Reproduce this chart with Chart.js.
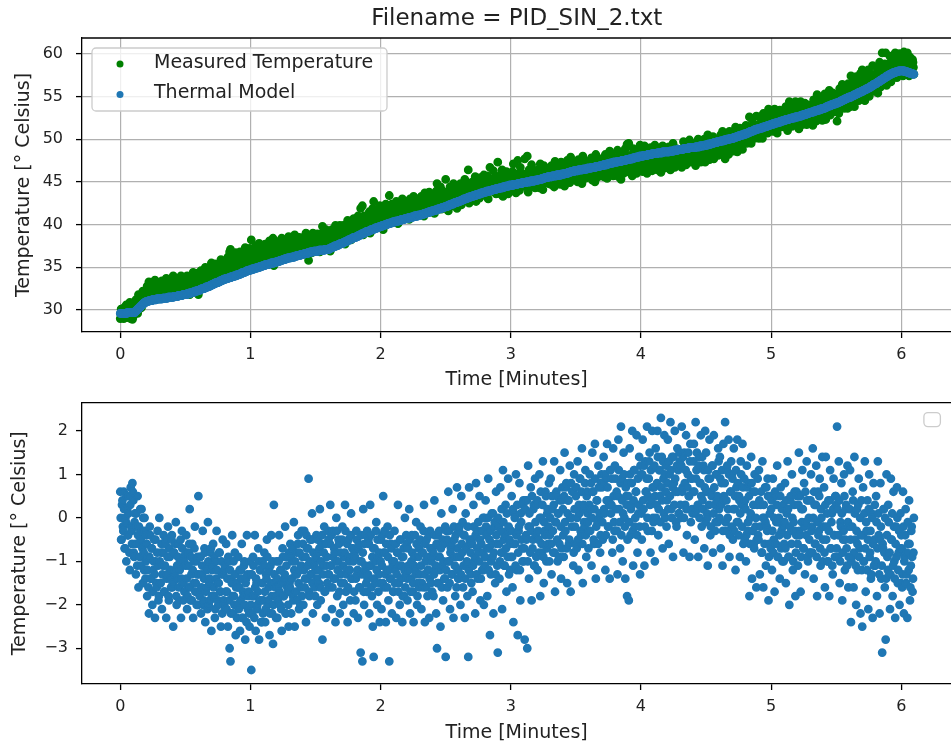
<!DOCTYPE html>
<html>
<head>
<meta charset="utf-8">
<title>PID_SIN_2</title>
<script src="https://cdn.jsdelivr.net/npm/chart.js@4.4.1/dist/chart.umd.min.js"></script>
<style>
  html, body { margin: 0; padding: 0; background: #fff; overflow: hidden; }
  #figure { position: relative; width: 951px; height: 749px; overflow: hidden; background: #fff; }
  #figure canvas { position: absolute; left: 0; }
  #tempChart { top: 0; }
  #errorChart { top: 385px; }
</style>
</head>
<body>
<div id="figure">
  <canvas id="tempChart" width="957" height="395"></canvas>
  <canvas id="errorChart" width="957" height="364"></canvas>
</div>
<script>
// logger samples at 5 Hz -> 300 samples per minute, one row = 0.1 min
const SAMPLES_PER_MIN = 300;

const timeTicks = [0, 1, 2, 3, 4, 5, 6];
const tempTicks = [30, 35, 40, 45, 50, 55, 60];
const errorTicks = [-3, -2, -1, 0, 1, 2];

// thermal model output, deg C
const thermalModel = [
  29.6, 29.6, 29.6, 29.6, 29.6, 29.6, 29.6, 29.6, 29.6, 29.6, 29.6, 29.6, 29.6, 29.6, 29.6, 29.6, 29.7, 29.7, 29.7, 29.7, 29.7, 29.7, 29.7, 29.7, 29.7, 29.7, 29.7, 29.7, 29.7, 29.7,
  29.7, 29.7, 29.7, 29.7, 29.8, 29.8, 29.9, 29.9, 30.0, 30.0, 30.1, 30.1, 30.2, 30.2, 30.3, 30.3, 30.4, 30.4, 30.5, 30.5, 30.6, 30.6, 30.7, 30.7, 30.8, 30.8, 30.9, 30.9, 30.9, 30.9,
  31.0, 31.0, 31.0, 31.0, 31.0, 31.0, 31.1, 31.1, 31.1, 31.1, 31.1, 31.1, 31.1, 31.1, 31.2, 31.2, 31.2, 31.2, 31.2, 31.2, 31.2, 31.2, 31.2, 31.2, 31.3, 31.3, 31.3, 31.3, 31.3, 31.3,
  31.3, 31.3, 31.3, 31.3, 31.3, 31.3, 31.3, 31.3, 31.4, 31.4, 31.4, 31.4, 31.4, 31.4, 31.4, 31.4, 31.4, 31.4, 31.4, 31.4, 31.5, 31.5, 31.5, 31.5, 31.5, 31.5, 31.5, 31.5, 31.5, 31.5,
  31.5, 31.5, 31.5, 31.5, 31.6, 31.6, 31.6, 31.6, 31.6, 31.6, 31.6, 31.6, 31.6, 31.6, 31.7, 31.7, 31.7, 31.7, 31.7, 31.7, 31.7, 31.7, 31.7, 31.7, 31.8, 31.8, 31.8, 31.8, 31.8, 31.8,
  31.8, 31.8, 31.8, 31.8, 31.9, 31.9, 31.9, 31.9, 31.9, 31.9, 32.0, 32.0, 32.0, 32.0, 32.0, 32.0, 32.1, 32.1, 32.1, 32.1, 32.1, 32.1, 32.2, 32.2, 32.2, 32.2, 32.2, 32.2, 32.3, 32.3,
  32.3, 32.3, 32.3, 32.3, 32.4, 32.4, 32.4, 32.4, 32.5, 32.5, 32.5, 32.5, 32.5, 32.5, 32.6, 32.6, 32.6, 32.6, 32.7, 32.7, 32.7, 32.7, 32.7, 32.7, 32.8, 32.8, 32.8, 32.8, 32.9, 32.9,
  32.9, 32.9, 33.0, 33.0, 33.0, 33.0, 33.1, 33.1, 33.1, 33.1, 33.2, 33.2, 33.2, 33.2, 33.2, 33.2, 33.3, 33.3, 33.3, 33.3, 33.4, 33.4, 33.4, 33.4, 33.5, 33.5, 33.5, 33.5, 33.6, 33.6,
  33.6, 33.6, 33.6, 33.6, 33.7, 33.7, 33.7, 33.7, 33.7, 33.7, 33.8, 33.8, 33.8, 33.8, 33.8, 33.8, 33.9, 33.9, 33.9, 33.9, 33.9, 33.9, 34.0, 34.0, 34.0, 34.0, 34.0, 34.0, 34.1, 34.1,
  34.1, 34.1, 34.1, 34.1, 34.2, 34.2, 34.2, 34.2, 34.3, 34.3, 34.3, 34.3, 34.4, 34.4, 34.4, 34.4, 34.4, 34.4, 34.5, 34.5, 34.5, 34.5, 34.6, 34.6, 34.6, 34.6, 34.6, 34.6, 34.7, 34.7,
  34.7, 34.7, 34.7, 34.7, 34.8, 34.8, 34.8, 34.8, 34.8, 34.8, 34.9, 34.9, 34.9, 34.9, 34.9, 34.9, 35.0, 35.0, 35.0, 35.0, 35.0, 35.0, 35.1, 35.1, 35.1, 35.1, 35.1, 35.1, 35.2, 35.2,
  35.2, 35.2, 35.2, 35.2, 35.3, 35.3, 35.3, 35.3, 35.3, 35.3, 35.3, 35.3, 35.4, 35.4, 35.4, 35.4, 35.4, 35.4, 35.5, 35.5, 35.5, 35.5, 35.5, 35.5, 35.5, 35.5, 35.6, 35.6, 35.6, 35.6,
  35.6, 35.6, 35.7, 35.7, 35.7, 35.7, 35.7, 35.7, 35.8, 35.8, 35.8, 35.8, 35.8, 35.8, 35.9, 35.9, 35.9, 35.9, 35.9, 35.9, 36.0, 36.0, 36.0, 36.0, 36.0, 36.0, 36.1, 36.1, 36.1, 36.1,
  36.1, 36.1, 36.1, 36.1, 36.2, 36.2, 36.2, 36.2, 36.2, 36.2, 36.2, 36.2, 36.3, 36.3, 36.3, 36.3, 36.3, 36.3, 36.4, 36.4, 36.4, 36.4, 36.4, 36.4, 36.4, 36.4, 36.5, 36.5, 36.5, 36.5,
  36.5, 36.5, 36.5, 36.5, 36.6, 36.6, 36.6, 36.6, 36.6, 36.6, 36.6, 36.6, 36.7, 36.7, 36.7, 36.7, 36.7, 36.7, 36.8, 36.8, 36.8, 36.8, 36.8, 36.8, 36.8, 36.8, 36.9, 36.9, 36.9, 36.9,
  36.9, 36.9, 36.9, 36.9, 36.9, 36.9, 36.9, 36.9, 37.0, 37.0, 37.0, 37.0, 37.0, 37.0, 37.0, 37.0, 37.0, 37.0, 37.0, 37.0, 37.0, 37.0, 37.1, 37.1, 37.1, 37.1, 37.1, 37.1, 37.1, 37.1,
  37.1, 37.1, 37.2, 37.2, 37.2, 37.2, 37.3, 37.3, 37.3, 37.3, 37.4, 37.4, 37.4, 37.4, 37.5, 37.5, 37.5, 37.5, 37.5, 37.5, 37.6, 37.6, 37.6, 37.6, 37.7, 37.7, 37.7, 37.7, 37.8, 37.8,
  37.8, 37.8, 37.8, 37.8, 37.9, 37.9, 37.9, 37.9, 38.0, 38.0, 38.0, 38.0, 38.1, 38.1, 38.1, 38.1, 38.2, 38.2, 38.2, 38.2, 38.3, 38.3, 38.3, 38.3, 38.4, 38.4, 38.4, 38.4, 38.5, 38.5,
  38.5, 38.5, 38.5, 38.5, 38.6, 38.6, 38.6, 38.6, 38.7, 38.7, 38.7, 38.7, 38.8, 38.8, 38.8, 38.8, 38.9, 38.9, 38.9, 38.9, 39.0, 39.0, 39.0, 39.0, 39.1, 39.1, 39.1, 39.1, 39.2, 39.2,
  39.2, 39.2, 39.2, 39.2, 39.3, 39.3, 39.3, 39.3, 39.4, 39.4, 39.4, 39.4, 39.4, 39.4, 39.5, 39.5, 39.5, 39.5, 39.6, 39.6, 39.6, 39.6, 39.6, 39.6, 39.7, 39.7, 39.7, 39.7, 39.8, 39.8,
  39.8, 39.8, 39.8, 39.8, 39.9, 39.9, 39.9, 39.9, 39.9, 39.9, 40.0, 40.0, 40.0, 40.0, 40.0, 40.0, 40.1, 40.1, 40.1, 40.1, 40.1, 40.1, 40.2, 40.2, 40.2, 40.2, 40.2, 40.2, 40.3, 40.3,
  40.3, 40.3, 40.3, 40.3, 40.4, 40.4, 40.4, 40.4, 40.4, 40.4, 40.4, 40.4, 40.5, 40.5, 40.5, 40.5, 40.5, 40.5, 40.6, 40.6, 40.6, 40.6, 40.6, 40.6, 40.6, 40.6, 40.7, 40.7, 40.7, 40.7,
  40.7, 40.7, 40.7, 40.7, 40.8, 40.8, 40.8, 40.8, 40.8, 40.8, 40.8, 40.8, 40.9, 40.9, 40.9, 40.9, 40.9, 40.9, 41.0, 41.0, 41.0, 41.0, 41.0, 41.0, 41.0, 41.0, 41.1, 41.1, 41.1, 41.1,
  41.1, 41.1, 41.1, 41.1, 41.2, 41.2, 41.2, 41.2, 41.2, 41.2, 41.3, 41.3, 41.3, 41.3, 41.3, 41.3, 41.4, 41.4, 41.4, 41.4, 41.4, 41.4, 41.5, 41.5, 41.5, 41.5, 41.5, 41.5, 41.6, 41.6,
  41.6, 41.6, 41.6, 41.6, 41.7, 41.7, 41.7, 41.7, 41.7, 41.7, 41.8, 41.8, 41.8, 41.8, 41.8, 41.8, 41.9, 41.9, 41.9, 41.9, 41.9, 41.9, 42.0, 42.0, 42.0, 42.0, 42.0, 42.0, 42.1, 42.1,
  42.1, 42.1, 42.1, 42.1, 42.2, 42.2, 42.2, 42.2, 42.3, 42.3, 42.3, 42.3, 42.4, 42.4, 42.4, 42.4, 42.4, 42.4, 42.5, 42.5, 42.5, 42.5, 42.6, 42.6, 42.6, 42.6, 42.6, 42.6, 42.7, 42.7,
  42.7, 42.7, 42.7, 42.7, 42.8, 42.8, 42.8, 42.8, 42.9, 42.9, 42.9, 42.9, 43.0, 43.0, 43.0, 43.0, 43.0, 43.0, 43.1, 43.1, 43.1, 43.1, 43.2, 43.2, 43.2, 43.2, 43.2, 43.2, 43.3, 43.3,
  43.3, 43.3, 43.3, 43.3, 43.4, 43.4, 43.4, 43.4, 43.4, 43.4, 43.5, 43.5, 43.5, 43.5, 43.5, 43.5, 43.6, 43.6, 43.6, 43.6, 43.6, 43.6, 43.7, 43.7, 43.7, 43.7, 43.7, 43.7, 43.8, 43.8,
  43.8, 43.8, 43.8, 43.8, 43.9, 43.9, 43.9, 43.9, 43.9, 43.9, 43.9, 43.9, 44.0, 44.0, 44.0, 44.0, 44.0, 44.0, 44.1, 44.1, 44.1, 44.1, 44.1, 44.1, 44.1, 44.1, 44.2, 44.2, 44.2, 44.2,
  44.2, 44.2, 44.2, 44.2, 44.3, 44.3, 44.3, 44.3, 44.3, 44.3, 44.3, 44.3, 44.4, 44.4, 44.4, 44.4, 44.4, 44.4, 44.5, 44.5, 44.5, 44.5, 44.5, 44.5, 44.5, 44.5, 44.6, 44.6, 44.6, 44.6,
  44.6, 44.6, 44.6, 44.6, 44.6, 44.6, 44.7, 44.7, 44.7, 44.7, 44.7, 44.7, 44.7, 44.7, 44.7, 44.7, 44.8, 44.8, 44.8, 44.8, 44.8, 44.8, 44.8, 44.8, 44.8, 44.8, 44.9, 44.9, 44.9, 44.9,
  44.9, 44.9, 44.9, 44.9, 44.9, 44.9, 45.0, 45.0, 45.0, 45.0, 45.0, 45.0, 45.0, 45.0, 45.0, 45.0, 45.1, 45.1, 45.1, 45.1, 45.1, 45.1, 45.1, 45.1, 45.1, 45.1, 45.2, 45.2, 45.2, 45.2,
  45.2, 45.2, 45.2, 45.2, 45.3, 45.3, 45.3, 45.3, 45.3, 45.3, 45.3, 45.3, 45.4, 45.4, 45.4, 45.4, 45.4, 45.4, 45.5, 45.5, 45.5, 45.5, 45.5, 45.5, 45.5, 45.5, 45.6, 45.6, 45.6, 45.6,
  45.6, 45.6, 45.6, 45.6, 45.6, 45.6, 45.7, 45.7, 45.7, 45.7, 45.7, 45.7, 45.7, 45.7, 45.7, 45.7, 45.8, 45.8, 45.8, 45.8, 45.8, 45.8, 45.8, 45.8, 45.8, 45.8, 45.9, 45.9, 45.9, 45.9,
  45.9, 45.9, 45.9, 45.9, 46.0, 46.0, 46.0, 46.0, 46.0, 46.0, 46.0, 46.0, 46.1, 46.1, 46.1, 46.1, 46.1, 46.1, 46.2, 46.2, 46.2, 46.2, 46.2, 46.2, 46.2, 46.2, 46.3, 46.3, 46.3, 46.3,
  46.3, 46.3, 46.3, 46.3, 46.3, 46.3, 46.4, 46.4, 46.4, 46.4, 46.4, 46.4, 46.4, 46.4, 46.4, 46.4, 46.5, 46.5, 46.5, 46.5, 46.5, 46.5, 46.5, 46.5, 46.5, 46.5, 46.6, 46.6, 46.6, 46.6,
  46.6, 46.6, 46.6, 46.6, 46.6, 46.6, 46.7, 46.7, 46.7, 46.7, 46.7, 46.7, 46.7, 46.7, 46.7, 46.7, 46.8, 46.8, 46.8, 46.8, 46.8, 46.8, 46.8, 46.8, 46.8, 46.8, 46.9, 46.9, 46.9, 46.9,
  46.9, 46.9, 46.9, 46.9, 47.0, 47.0, 47.0, 47.0, 47.0, 47.0, 47.0, 47.0, 47.1, 47.1, 47.1, 47.1, 47.1, 47.1, 47.2, 47.2, 47.2, 47.2, 47.2, 47.2, 47.2, 47.2, 47.3, 47.3, 47.3, 47.3,
  47.3, 47.3, 47.3, 47.3, 47.3, 47.3, 47.4, 47.4, 47.4, 47.4, 47.4, 47.4, 47.4, 47.4, 47.4, 47.4, 47.5, 47.5, 47.5, 47.5, 47.5, 47.5, 47.5, 47.5, 47.5, 47.5, 47.6, 47.6, 47.6, 47.6,
  47.6, 47.6, 47.6, 47.6, 47.7, 47.7, 47.7, 47.7, 47.7, 47.7, 47.7, 47.7, 47.8, 47.8, 47.8, 47.8, 47.8, 47.8, 47.9, 47.9, 47.9, 47.9, 47.9, 47.9, 47.9, 47.9, 48.0, 48.0, 48.0, 48.0,
  48.0, 48.0, 48.0, 48.0, 48.0, 48.0, 48.1, 48.1, 48.1, 48.1, 48.1, 48.1, 48.1, 48.1, 48.1, 48.1, 48.2, 48.2, 48.2, 48.2, 48.2, 48.2, 48.2, 48.2, 48.2, 48.2, 48.3, 48.3, 48.3, 48.3,
  48.3, 48.3, 48.3, 48.3, 48.3, 48.3, 48.3, 48.3, 48.4, 48.4, 48.4, 48.4, 48.4, 48.4, 48.4, 48.4, 48.4, 48.4, 48.4, 48.4, 48.5, 48.5, 48.5, 48.5, 48.5, 48.5, 48.5, 48.5, 48.5, 48.5,
  48.5, 48.5, 48.5, 48.5, 48.5, 48.5, 48.6, 48.6, 48.6, 48.6, 48.6, 48.6, 48.6, 48.6, 48.6, 48.6, 48.7, 48.7, 48.7, 48.7, 48.7, 48.7, 48.7, 48.7, 48.7, 48.7, 48.8, 48.8, 48.8, 48.8,
  48.8, 48.8, 48.8, 48.8, 48.8, 48.8, 48.8, 48.8, 48.9, 48.9, 48.9, 48.9, 48.9, 48.9, 48.9, 48.9, 48.9, 48.9, 48.9, 48.9, 49.0, 49.0, 49.0, 49.0, 49.0, 49.0, 49.0, 49.0, 49.0, 49.0,
  49.0, 49.0, 49.0, 49.0, 49.0, 49.0, 49.1, 49.1, 49.1, 49.1, 49.1, 49.1, 49.1, 49.1, 49.1, 49.1, 49.2, 49.2, 49.2, 49.2, 49.2, 49.2, 49.2, 49.2, 49.2, 49.2, 49.3, 49.3, 49.3, 49.3,
  49.3, 49.3, 49.3, 49.3, 49.4, 49.4, 49.4, 49.4, 49.4, 49.4, 49.4, 49.4, 49.5, 49.5, 49.5, 49.5, 49.5, 49.5, 49.6, 49.6, 49.6, 49.6, 49.6, 49.6, 49.6, 49.6, 49.7, 49.7, 49.7, 49.7,
  49.7, 49.7, 49.7, 49.7, 49.8, 49.8, 49.8, 49.8, 49.8, 49.8, 49.8, 49.8, 49.9, 49.9, 49.9, 49.9, 49.9, 49.9, 50.0, 50.0, 50.0, 50.0, 50.0, 50.0, 50.0, 50.0, 50.1, 50.1, 50.1, 50.1,
  50.1, 50.1, 50.1, 50.1, 50.2, 50.2, 50.2, 50.2, 50.2, 50.2, 50.3, 50.3, 50.3, 50.3, 50.3, 50.3, 50.4, 50.4, 50.4, 50.4, 50.4, 50.4, 50.5, 50.5, 50.5, 50.5, 50.5, 50.5, 50.6, 50.6,
  50.6, 50.6, 50.6, 50.6, 50.7, 50.7, 50.7, 50.7, 50.8, 50.8, 50.8, 50.8, 50.9, 50.9, 50.9, 50.9, 50.9, 50.9, 51.0, 51.0, 51.0, 51.0, 51.1, 51.1, 51.1, 51.1, 51.1, 51.1, 51.2, 51.2,
  51.2, 51.2, 51.2, 51.2, 51.3, 51.3, 51.3, 51.3, 51.3, 51.3, 51.4, 51.4, 51.4, 51.4, 51.4, 51.4, 51.5, 51.5, 51.5, 51.5, 51.5, 51.5, 51.6, 51.6, 51.6, 51.6, 51.6, 51.6, 51.7, 51.7,
  51.7, 51.7, 51.7, 51.7, 51.8, 51.8, 51.8, 51.8, 51.8, 51.8, 51.9, 51.9, 51.9, 51.9, 51.9, 51.9, 52.0, 52.0, 52.0, 52.0, 52.0, 52.0, 52.1, 52.1, 52.1, 52.1, 52.1, 52.1, 52.2, 52.2,
  52.2, 52.2, 52.2, 52.2, 52.3, 52.3, 52.3, 52.3, 52.3, 52.3, 52.3, 52.3, 52.4, 52.4, 52.4, 52.4, 52.4, 52.4, 52.5, 52.5, 52.5, 52.5, 52.5, 52.5, 52.5, 52.5, 52.6, 52.6, 52.6, 52.6,
  52.6, 52.6, 52.6, 52.6, 52.7, 52.7, 52.7, 52.7, 52.7, 52.7, 52.8, 52.8, 52.8, 52.8, 52.8, 52.8, 52.9, 52.9, 52.9, 52.9, 52.9, 52.9, 53.0, 53.0, 53.0, 53.0, 53.0, 53.0, 53.1, 53.1,
  53.1, 53.1, 53.1, 53.1, 53.2, 53.2, 53.2, 53.2, 53.2, 53.2, 53.3, 53.3, 53.3, 53.3, 53.3, 53.3, 53.4, 53.4, 53.4, 53.4, 53.4, 53.4, 53.5, 53.5, 53.5, 53.5, 53.5, 53.5, 53.6, 53.6,
  53.6, 53.6, 53.6, 53.6, 53.7, 53.7, 53.7, 53.7, 53.8, 53.8, 53.8, 53.8, 53.9, 53.9, 53.9, 53.9, 53.9, 53.9, 54.0, 54.0, 54.0, 54.0, 54.1, 54.1, 54.1, 54.1, 54.1, 54.1, 54.2, 54.2,
  54.2, 54.2, 54.2, 54.2, 54.3, 54.3, 54.3, 54.3, 54.4, 54.4, 54.4, 54.4, 54.5, 54.5, 54.5, 54.5, 54.6, 54.6, 54.6, 54.6, 54.7, 54.7, 54.7, 54.7, 54.8, 54.8, 54.8, 54.8, 54.9, 54.9,
  54.9, 54.9, 54.9, 54.9, 55.0, 55.0, 55.0, 55.0, 55.1, 55.1, 55.1, 55.1, 55.2, 55.2, 55.2, 55.2, 55.3, 55.3, 55.3, 55.3, 55.4, 55.4, 55.4, 55.4, 55.5, 55.5, 55.5, 55.5, 55.6, 55.6,
  55.6, 55.6, 55.7, 55.7, 55.7, 55.7, 55.8, 55.8, 55.8, 55.8, 55.9, 55.9, 55.9, 55.9, 56.0, 56.0, 56.0, 56.0, 56.1, 56.1, 56.2, 56.2, 56.2, 56.2, 56.3, 56.3, 56.4, 56.4, 56.4, 56.4,
  56.5, 56.5, 56.5, 56.5, 56.6, 56.6, 56.7, 56.7, 56.7, 56.7, 56.8, 56.8, 56.9, 56.9, 56.9, 56.9, 57.0, 57.0, 57.1, 57.1, 57.1, 57.1, 57.2, 57.2, 57.3, 57.3, 57.3, 57.3, 57.4, 57.4,
  57.5, 57.5, 57.5, 57.5, 57.6, 57.6, 57.6, 57.6, 57.7, 57.7, 57.7, 57.7, 57.8, 57.8, 57.8, 57.8, 57.8, 57.8, 57.9, 57.9, 57.9, 57.9, 57.9, 57.9, 58.0, 58.0, 58.0, 58.0, 58.0, 58.0,
  58.0, 58.0, 58.0, 58.0, 58.0, 58.0, 58.0, 58.0, 57.9, 57.9, 57.9, 57.9, 57.9, 57.9, 57.8, 57.8, 57.8, 57.8, 57.8, 57.8, 57.7, 57.7, 57.7, 57.7, 57.7, 57.7, 57.6, 57.6, 57.6, 57.6
];

// model minus measured temperature, deg C
const modelError = [
  0.6, 0.0, -0.5, -0.5, 0.3, 0.4, -0.2, -0.3, 0.6, 0.2, -0.7, -0.7, 0.0, -0.1, -1.0, 0.5, 0.2, -0.4, -0.4, 0.1, 0.5, -0.8, -1.2, 0.3, 0.7, -0.2, -0.3, -0.6, 0.8, 0.6,
  0.4, -0.8, -0.9, -0.1, 0.1, -0.6, -1.3, 0.1, -0.2, -1.1, 0.5, -0.4, -1.6, -0.2, -0.6, -0.9, 0.2, -0.5, -1.1, 0.2, -0.3, -0.7, -1.5, 0.0, -0.8, -1.2, 0.0, -0.3, -1.4, -1.0,
  -0.4, -0.6, -1.8, -1.2, -0.9, -1.6, -2.2, -0.9, -0.2, -0.4, -1.4, -1.4, -0.7, -0.7, -2.0, -1.7, -1.2, -1.0, -0.5, -1.3, -2.3, -0.5, -1.0, -1.5, -1.6, -0.8, -0.3, -1.1, -1.9, -1.8,
  0.0, -1.0, -1.5, -1.5, -0.8, -0.6, -2.1, -1.3, -1.1, -0.8, -0.4, -1.7, -1.7, -1.1, -0.6, -0.5, -2.3, -1.4, -1.3, -0.9, -0.2, -1.8, -1.9, -0.7, -0.9, -1.2, -1.4, -1.6, -0.5, -0.4,
  -1.6, -1.5, -2.5, -0.8, -0.8, -1.3, -1.2, -0.6, -0.1, -1.8, -2.0, -1.1, -1.4, -0.9, -0.6, -1.6, -1.9, -1.2, -1.0, -0.5, -2.3, -1.4, -0.3, -0.7, -1.5, -1.9, -0.9, -1.0, -1.7, -1.7,
  -1.1, -0.8, -0.4, -1.4, -2.1, -1.8, -1.6, -1.1, -0.8, -0.6, 0.2, -1.6, -1.9, -0.9, -1.3, -1.9, -0.6, -1.2, -2.3, -1.5, -1.0, -0.7, -0.2, -1.7, -1.5, -1.0, -2.0, -1.3, -0.9, -2.0,
  0.5, -1.3, -1.7, -1.8, -0.9, -0.9, -2.2, -1.6, -1.3, -1.1, -0.3, -2.0, -1.9, -1.4, -0.7, -0.8, -2.4, -1.7, -1.1, -1.2, -1.6, -2.1, -0.1, -1.0, -2.0, -1.5, -1.4, -1.9, -0.8, -0.7,
  -2.6, -1.8, -1.2, -1.1, -0.6, -1.6, -1.8, -0.9, -2.3, -2.1, -1.0, -1.4, -0.3, -1.2, -1.5, -1.9, -2.0, -1.5, -0.8, -0.8, -1.7, -1.7, -2.5, -1.0, -1.3, -2.2, -0.5, -1.3, -1.9, -2.0,
  -1.2, -1.1, -2.1, -1.7, -0.6, -2.1, -1.7, -1.4, -2.5, -0.9, -1.0, -1.9, -3.0, -1.2, -3.3, -2.2, -1.4, -1.5, -0.4, -1.8, -2.2, -1.0, -1.8, -2.0, -0.8, -1.3, -2.7, -1.6, -1.5, -2.3,
  -2.0, -1.6, -0.9, -2.1, -1.6, -1.2, -2.6, -1.9, -1.2, -1.4, -0.6, -2.3, -2.3, -1.7, -1.8, -1.1, -1.0, -2.0, -2.8, -1.5, -1.4, -2.4, -0.4, -1.3, -2.1, -1.8, -1.7, -2.2, -2.5, -1.0,
  -1.3, -2.0, -3.5, -1.3, -2.2, -1.8, -0.9, -1.1, -1.8, -2.3, -0.4, -1.6, -2.6, -1.4, -1.5, -2.1, -2.0, -1.7, -0.7, -1.0, -2.8, -1.9, -1.2, -1.2, -1.9, -2.4, -2.4, -1.5, -1.0, -2.2,
  -1.9, -1.1, -0.8, -1.7, -2.4, -2.1, -1.3, -1.4, -0.5, -0.9, -2.0, -1.9, -1.6, -1.2, -2.7, -2.2, -1.1, -1.5, -0.4, -1.8, -2.2, -1.0, -2.9, -2.0, 0.3, -1.3, -1.5, -1.6, -1.8, -2.3,
  -1.0, -1.4, -2.3, -1.9, -1.6, -1.0, -0.4, -1.7, -2.0, -1.2, -1.2, -2.1, -2.6, -1.5, -0.7, -0.9, -1.8, -1.8, -1.4, -1.3, -0.2, -2.2, -2.2, -1.1, -0.9, -1.6, -1.7, -2.0, -2.5, -0.8,
  -1.5, -1.6, -0.6, -0.9, -2.2, -1.4, -1.0, -0.7, -1.8, -1.9, -0.1, -1.2, -2.5, -1.0, -1.3, -1.7, -0.8, -1.3, -1.9, -0.6, -0.4, -1.5, -2.1, -0.8, -1.2, -2.0, -1.6, -1.1, -0.3, -1.8,
  -0.9, -0.6, -2.0, -1.2, -0.3, -1.6, -1.4, -0.9, -2.4, -0.4, -0.7, -1.4, -1.1, -0.7, 0.9, -1.7, -1.8, -1.0, -0.5, -1.3, -1.3, -0.5, 0.1, -1.5, -2.2, -0.8, -1.0, -1.1, -1.6, -1.8,
  -1.2, -0.9, -0.4, -1.4, -2.0, -0.5, -0.8, -1.2, -1.5, -0.7, 0.2, -1.6, -1.9, -1.0, -0.6, -0.4, -2.8, -1.3, -1.1, -0.8, -0.2, -1.7, -1.7, -0.6, -2.3, -1.1, -0.9, -1.5, -1.3, -0.3,
  -0.5, -1.3, -1.6, -0.6, 0.3, -1.1, -1.1, -0.4, -2.1, -1.6, -0.3, -0.9, -1.4, -0.7, -0.8, -1.4, -2.4, -1.0, 0.0, -0.3, -1.8, -1.2, -1.0, -0.5, -0.6, -1.7, -2.2, -0.8, -1.3, -1.5,
  -1.5, -0.5, -0.2, -1.1, -2.0, -1.5, -0.9, -0.8, 0.3, -0.3, -1.7, -1.3, -1.2, -0.6, -2.4, -1.6, -0.5, -0.9, -1.0, -1.2, -1.9, -0.4, 0.1, -1.4, -1.4, -0.7, -0.7, -1.0, -2.2, -1.7,
  -0.8, -0.9, -1.9, -1.4, -0.3, -0.5, -1.3, -1.2, -2.3, -0.7, -0.6, -1.6, -1.6, -1.0, -3.1, -0.4, -1.0, -1.3, -3.3, -0.8, 0.2, -1.7, -2.0, -0.6, -1.2, -1.1, -0.4, -1.5, -1.7, -0.3,
  -1.4, -1.3, -0.5, -0.6, -2.2, -1.1, 0.3, -0.4, -1.1, -1.6, -1.8, -0.9, -2.5, -0.7, -3.2, -1.4, -0.7, -1.0, -1.5, -0.3, -0.1, -1.2, -2.0, -0.5, -0.9, -1.7, -1.3, -0.8, -2.4, -1.5,
  -1.0, -0.5, -2.1, -1.1, -0.4, -1.5, 0.5, -0.8, -1.6, -0.3, -0.8, -1.3, -2.4, -0.6, -1.2, -1.6, -0.2, -0.9, -1.9, -1.2, -3.3, -0.4, -1.4, -1.4, -0.6, -0.7, -2.2, -1.0, -1.1, -1.7,
  -1.7, -1.0, -0.3, -1.5, -1.2, -0.6, -2.3, -1.3, -0.8, -0.8, 0.3, -1.7, -1.5, -1.1, -2.0, -0.5, -0.5, -1.4, -1.1, -0.9, -2.4, -1.8, -0.9, -0.7, -1.8, -1.2, 0.0, -1.6, -1.3, -0.4,
  -0.6, -1.4, -1.9, -0.7, -1.1, -1.2, 0.2, -0.5, -2.2, -1.7, -1.4, -1.0, -0.4, -0.8, -1.7, -1.5, -2.4, -1.1, -0.9, -0.4, -1.2, -1.3, -0.1, -0.6, -2.0, -1.8, -1.5, -0.9, -0.7, -1.6,
  -1.3, -0.5, -0.2, -1.1, -2.1, -1.5, -0.8, -0.8, -1.6, -0.3, 0.3, -1.3, -2.4, -0.6, -1.0, -1.6, -0.5, -0.9, -1.8, -1.2, -1.2, -0.4, -2.3, -1.4, -0.3, -0.7, -1.5, -1.0, -0.9, -1.7,
  -0.7, -0.8, -1.8, -1.3, 0.4, -0.4, -1.2, -1.1, -2.2, -0.6, -3.0, -1.5, -0.4, -0.9, -1.5, -0.3, -0.9, -1.2, -2.5, -0.7, 0.1, -1.6, -1.1, -0.5, -1.9, -1.0, -0.6, -1.4, -1.4, -0.2,
  -3.2, -1.2, -0.3, -0.5, -1.6, -1.0, 0.6, -0.3, -1.0, -1.5, -2.1, -0.8, -0.7, -0.6, -1.3, -1.3, 0.2, -0.9, -2.3, -0.2, -0.5, -1.1, -1.8, -0.4, -0.9, -1.6, 0.7, -0.7, -1.2, -1.4,
  -1.4, -0.3, -0.2, -0.9, -2.0, -1.3, 0.5, -0.6, -0.8, -0.1, -1.6, -1.1, -0.4, -0.4, -2.3, -1.4, 0.1, -0.7, -1.1, -1.0, -1.8, -0.2, -3.2, -1.2, 0.7, -0.5, -0.6, -0.8, -1.3, -1.5,
  -0.5, -0.6, -1.7, -1.1, 0.3, -0.2, -1.0, -0.9, -2.2, -0.4, 0.8, -1.3, -0.3, -0.7, -1.4, -0.1, -0.8, -1.0, 0.5, -0.5, -1.9, -1.4, -0.6, -0.3, -1.2, -0.8, 0.0, -1.2, -2.0, 0.0,
  -1.1, -0.9, 0.4, -0.2, -0.4, -0.7, -1.8, 0.0, 0.9, -1.2, -0.7, -0.5, -2.7, -0.3, -1.3, -1.0, 0.1, -0.6, -0.9, 0.1, -2.2, -0.8, -0.2, -0.1, -1.5, -1.3, 0.6, -0.4, -0.6, -1.1,
  -3.1, 0.0, -0.2, -0.6, -1.4, -1.0, 0.7, -0.3, -0.8, 0.2, -2.1, -0.8, 1.1, -0.1, -0.5, -1.1, -1.1, -0.4, 0.3, -0.7, -1.7, 0.1, -0.3, -0.9, 0.9, -0.2, -1.3, -0.5, -0.6, -1.2,
  -0.9, -0.3, 0.5, -0.9, -1.6, 0.2, -2.4, -0.6, 0.1, 0.0, -0.6, -1.1, 1.0, -0.4, -1.2, 0.3, -2.7, -0.8, -0.3, -0.2, 0.8, -1.2, -1.9, 0.1, -0.1, -0.5, -0.7, -1.0, 0.3, 0.4,
  -1.0, -0.7, -2.8, 0.2, 0.4, -0.4, -0.5, 0.4, -3.0, -1.0, 1.2, -0.2, -1.4, 0.1, -0.2, -0.8, 0.7, -0.3, -1.9, 0.5, -0.7, -0.5, 0.2, 0.3, -1.1, -1.1, 0.9, -0.1, -0.4, -0.9,
  0.3, 0.4, -1.2, -0.3, -0.5, -0.8, 1.0, 0.0, -1.8, 0.6, 0.0, -0.6, -0.8, 0.3, 1.3, -0.9, -1.5, -0.1, -0.3, -0.4, 0.6, 0.5, -1.0, -0.7, 0.1, 0.2, -0.6, -0.2, 0.8, -1.0,
  -0.4, 0.0, 0.9, -0.6, -1.3, 0.5, 0.2, -0.3, -0.8, 0.3, 1.3, -0.8, -1.7, -0.1, -0.1, 0.6, 0.5, -0.5, -1.0, 0.1, 0.1, -0.9, -0.6, 0.4, 1.1, -0.2, -1.4, -0.7, 0.4, 0.7,
  0.2, -0.4, -0.9, 0.5, 1.5, -0.1, -0.3, 0.7, 0.8, -0.7, -1.5, 0.1, 0.4, 0.4, -0.6, -0.5, 1.2, 0.0, -1.7, 0.8, 0.0, -0.2, 0.6, 0.6, -1.1, -0.8, 1.0, 0.2, -0.2, -0.6,
  0.5, 0.7, -0.7, 0.0, 1.3, -0.5, -1.2, 0.3, 0.1, 0.9, 0.9, -0.3, -0.4, 0.6, 1.6, -0.6, -1.5, 0.2, 0.3, -0.1, -0.2, 0.8, 1.1, -0.4, -0.9, 0.5, 0.6, 0.1, -0.1, -0.7,
  -0.3, 0.3, 1.0, -0.3, 0.2, 0.8, -1.1, 0.0, 1.5, 0.6, 0.6, -0.5, -0.6, 0.2, 1.7, 0.9, -1.4, -0.2, 0.4, 0.4, -0.1, -0.6, 1.2, 0.7, 0.0, 0.1, -0.8, -0.4, 0.8, 1.0,
  0.7, -0.1, -0.5, 0.8, 1.4, 0.2, 0.1, 1.0, -1.2, -0.4, 0.9, 0.4, 1.7, 0.7, -0.2, -0.2, 0.4, 0.3, -1.4, 1.1, 1.1, 0.1, 0.3, 0.9, -0.8, -0.5, 1.6, 0.5, -0.1, -0.3,
  1.2, 0.9, -0.3, 0.2, 0.6, -0.3, -1.3, 0.5, 1.8, 1.1, 0.2, -0.1, -0.7, 0.8, 2.1, -0.4, 0.9, 0.4, -1.0, 0.1, 1.5, 1.0, 0.0, -0.2, -1.4, 0.7, 0.5, 0.3, -1.8, -0.5,
  0.8, 0.5, -1.9, -0.1, 1.6, 1.0, -0.4, 0.2, 0.3, 0.8, 2.0, -0.3, -1.1, 0.4, 1.1, 1.1, -0.2, 0.0, 0.6, 0.6, 1.9, -0.4, -0.8, 0.9, 0.1, 0.3, 1.4, -0.2, -1.3, 1.2,
  1.0, 0.1, -0.5, 1.0, 1.8, 0.4, 0.2, 1.2, -1.1, -0.2, 1.3, 0.6, 0.6, 0.9, 2.1, 0.0, -0.3, 0.5, 0.9, 1.3, 1.5, 0.3, -0.8, 1.1, 0.4, -0.3, 2.0, 0.7, 0.0, -0.1,
  0.7, 1.2, -1.0, 0.5, 1.6, 0.0, 0.3, 0.8, 2.0, 1.4, -0.4, 0.2, 1.1, 1.1, 0.5, -0.1, 2.3, 0.7, 1.4, 0.4, -0.7, 1.3, 0.9, 0.1, 1.9, 1.0, 0.0, 0.6, 1.2, -0.2,
  0.4, 0.8, 1.8, 0.2, -0.6, 1.3, 1.0, 0.5, 2.2, 1.1, 0.2, 0.0, 1.4, 0.7, -0.9, 1.4, 0.8, 0.3, 2.0, 0.9, 0.6, -0.1, -0.2, 1.2, 1.6, 0.6, 1.1, 0.1, 0.1, 1.5,
  1.3, 0.3, 0.0, 1.2, 2.1, 0.6, 0.7, 1.4, -0.8, 0.0, 1.5, 0.8, 0.3, 1.1, 1.9, 0.2, -0.4, 0.7, 1.0, 1.5, 0.5, 0.5, -0.9, 1.3, 1.7, -0.1, 0.9, 0.9, 0.2, 0.1,
  0.6, 1.3, 1.7, 0.6, -0.5, 0.1, 2.2, 0.9, 1.1, 1.5, 0.2, 0.3, -0.9, 1.2, 1.4, 0.0, 0.8, 0.8, 1.9, 0.5, -0.2, 1.4, 0.4, 0.2, 1.2, 1.1, -0.7, 0.7, 2.0, -0.1,
  1.5, 0.6, 0.1, 0.0, -1.1, 1.1, 0.9, 0.3, 1.8, 0.9, -0.4, -0.2, 0.6, 0.5, 1.2, 1.2, -0.8, 0.1, 1.9, 0.7, 0.3, -0.3, -0.1, 1.0, 1.0, 0.4, 0.5, -0.1, 1.6, 1.3,
  0.2, 0.0, 1.4, 0.9, -0.7, 0.3, 0.8, 1.1, -1.1, -0.3, 1.7, 0.5, 0.4, 0.8, 2.2, -0.1, -0.3, 0.4, 1.1, 1.2, 0.0, 0.2, 1.8, 1.0, -0.9, -0.4, 0.6, 0.6, 1.3, -0.2,
  1.0, 0.9, -0.5, 0.2, 1.6, -0.3, 0.2, 0.5, -1.2, 1.1, 0.7, -0.1, 1.8, 0.8, -0.1, -0.4, 0.5, 0.4, -0.9, 0.1, 1.3, 1.0, 0.3, -0.2, 1.7, 0.7, -0.6, 0.3, 0.9, -0.5,
  0.4, 0.2, -1.0, -0.4, 1.2, 0.7, -0.3, -0.1, 0.8, 0.5, -1.8, -0.6, 0.0, 0.1, 1.4, 0.8, -1.4, -0.3, 0.6, 0.3, -0.6, -0.7, 1.0, 0.6, -0.2, 0.0, -1.6, -0.5, 0.3, 0.9,
  -0.4, -0.5, 1.1, 0.4, -1.3, -0.2, 0.3, 0.6, -0.8, -0.8, 1.3, 0.0, -1.6, 0.3, 0.0, -0.6, 0.7, -0.1, -1.1, 0.7, -0.2, -0.3, 0.9, 0.5, -1.9, -0.9, -0.6, 0.1, 0.5, -0.7,
  0.2, 0.4, -1.2, -0.3, 0.9, -0.8, -0.5, 0.0, -1.7, 0.6, 0.5, -0.6, -0.1, 0.3, 1.2, -0.9, -0.9, -0.1, 0.0, -0.4, -1.4, 0.5, 0.7, -0.7, -0.3, 0.2, -1.0, -0.2, 0.3, -1.0,
  -0.6, -0.1, 0.8, -0.7, -1.5, 0.4, 0.1, -0.4, 1.3, 0.2, -0.9, -0.9, -2.0, -0.2, 0.4, 0.5, -0.3, -0.6, 1.0, 0.0, -1.2, -1.0, -0.1, 0.3, 0.6, -0.3, -1.8, -0.8, -0.4, 0.6,
  0.5, -0.6, -1.1, 0.3, 1.5, -0.3, -0.4, 0.5, -1.7, -0.9, 0.2, -0.1, 1.1, 0.2, -0.7, -0.7, 0.8, -0.2, -1.3, 0.6, -0.1, -0.4, 1.3, 0.4, -0.9, -1.0, 0.4, 0.0, -0.5, -0.8,
  -0.8, 0.4, 1.0, -0.3, -0.2, -0.8, 1.6, 0.0, -1.4, 0.6, 0.3, -0.6, -0.6, 0.3, 1.2, -0.9, -1.8, -0.1, 0.6, -0.4, -0.3, 0.5, 0.9, -0.7, -1.1, 0.2, 0.0, -0.2, 1.4, -1.0,
  -0.5, -0.2, 0.7, -0.8, -1.6, 0.3, 1.4, -0.5, -0.2, 0.1, -1.0, -1.0, 0.4, -0.3, -1.8, 0.4, 1.1, -0.7, -0.7, -0.1, 0.1, -1.1, -1.3, 0.2, 0.9, -0.4, -0.4, -0.9, 0.5, 0.5,
  0.3, -0.7, 2.1, 0.2, -0.9, -0.4, 1.3, 0.4, -1.5, -1.0, -0.1, -0.2, 0.8, 0.1, -1.9, -0.8, -0.5, -0.3, 1.0, 0.5, -1.2, -0.5, 0.2, 0.3, -0.7, -1.1, 1.2, -0.1, -1.6, -0.9,
  -0.2, 0.2, 1.1, -0.5, -2.4, -1.0, -0.9, -0.2, 0.6, 0.4, -1.6, -0.8, 1.4, 0.1, -0.5, -1.1, -2.0, -0.3, 0.2, -0.6, -1.2, 0.3, 0.9, -0.9, -0.7, 0.0, -2.2, -0.4, 0.4, -1.2,
  -2.5, -0.4, 0.7, -1.0, -1.0, 0.1, 1.3, -0.7, -1.7, -0.1, -0.3, -1.2, 0.4, -0.5, -2.1, 0.2, 1.0, -0.9, -0.8, -0.3, -1.4, -1.3, 0.1, 0.0, -2.3, -0.6, 0.8, -1.1, -0.5, 0.3,
  -1.1, -1.0, 0.5, -0.1, -1.8, -0.7, 1.3, 0.1, -0.4, -1.3, -2.2, -0.5, 0.8, -0.2, -1.4, -1.1, -3.1, -0.6, -0.7, 0.2, 0.2, -0.8, -1.6, 0.0, -2.8, -1.4, 1.0, -0.4, -0.9, -1.2,
  0.3, -0.1, -1.3, -0.8, -2.1, -1.3, 0.9, -0.5, -0.5, 0.1, -1.8, -1.1, 0.6, -0.2, -1.0, -1.4, -2.3, -0.6, -0.2, -0.9, 0.7, 0.0, -1.5, -1.2, -0.8, -0.3, -2.0, -0.7, 0.1, -1.5,
  -0.4, -0.7, -1.6, -1.3, 0.6, -0.2, -2.2, -1.0, -0.9, -0.4, 0.2, -1.5, -1.3, -0.8, -2.3, -0.1, -0.6, -1.2, 0.4, -0.6, -1.9, -1.6, -1.1, -0.3, -0.2, -0.9, -1.7, -1.4, -0.8, 0.0
];

const GREEN = '#008000';
const BLUE = '#1f77b4';
const INK = '#222';

Chart.defaults.font.family = '"DejaVu Sans", sans-serif';

const n = Math.min(thermalModel.length, modelError.length);
const modelPts = [], measuredPts = [], errorPts = [];
for (let i = 0; i < n; i++) {
  const t = i / SAMPLES_PER_MIN;
  modelPts.push({ x: t, y: thermalModel[i] });
  measuredPts.push({ x: t, y: +(thermalModel[i] - modelError[i]).toFixed(2) });
  errorPts.push({ x: t, y: modelError[i] });
}

const minusSign = v => (v < 0 ? '\u2212' + Math.abs(v) : String(v));

function timeAxis(grid, height, titlePad) {
  return {
    type: 'linear',
    min: -0.294,
    max: 6.385,
    afterBuildTicks: s => { s.ticks = timeTicks.map(v => ({ value: v })); },
    afterFit: s => { s.height = height; },
    grid: { drawOnChartArea: grid, color: '#b0b0b0', lineWidth: 1.2, tickLength: 6, tickColor: '#000', tickWidth: 1.3 },
    border: { color: '#000', width: 1.3 },
    ticks: { color: INK, font: { size: 16 }, padding: 7, maxRotation: 0, callback: minusSign },
    title: { display: true, text: 'Time [Minutes]', color: INK, font: { size: 19 }, padding: { top: 0, bottom: titlePad } }
  };
}

function valueAxis(grid, tickList, min, max, labelPad, titlePad) {
  return {
    type: 'linear',
    min: min,
    max: max,
    afterBuildTicks: s => { s.ticks = tickList.map(v => ({ value: v })); },
    afterFit: s => { s.width = 82; },
    grid: { drawOnChartArea: grid, color: '#b0b0b0', lineWidth: 1.2, tickLength: 6, tickColor: '#000', tickWidth: 1.3 },
    border: { color: '#000', width: 1.3 },
    ticks: { color: INK, font: { size: 16 }, padding: labelPad, callback: minusSign },
    title: { display: true, text: 'Temperature [\u00b0 Celsius]', color: INK, font: { size: 19 }, padding: { top: titlePad, bottom: 0 } }
  };
}

// top spine of the axes box
const topSpine = {
  id: 'topSpine',
  afterDraw(chart) {
    const { ctx, chartArea: a } = chart;
    ctx.save();
    ctx.strokeStyle = '#000';
    ctx.lineWidth = 1.3;
    ctx.beginPath();
    ctx.moveTo(a.left, a.top);
    ctx.lineTo(a.right, a.top);
    ctx.stroke();
    ctx.restore();
  }
};

// legend box drawn inside the axes corner
const insetLegend = {
  id: 'insetLegend',
  afterDraw(chart, args, opts) {
    const { ctx, chartArea: a } = chart;
    const x = opts.corner === 'right' ? a.right - 11 - opts.width : a.left + 10;
    const y = a.top + 10;
    ctx.save();
    ctx.beginPath();
    ctx.roundRect(x, y, opts.width, opts.height, 4);
    ctx.fillStyle = 'rgba(255,255,255,0.8)';
    ctx.fill();
    ctx.strokeStyle = '#cccccc';
    ctx.lineWidth = 1.3;
    ctx.stroke();
    ctx.font = '19px "DejaVu Sans"';
    ctx.textBaseline = 'middle';
    chart.data.datasets.filter(ds => ds.label).forEach((ds, i) => {
      const cy = y + 16 + i * 30.5;
      ctx.beginPath();
      ctx.arc(x + 28, cy, 3.5, 0, Math.PI * 2);
      ctx.fillStyle = ds.backgroundColor;
      ctx.fill();
      ctx.fillStyle = INK;
      ctx.fillText(ds.label, x + 62, cy - 1);
    });
    ctx.restore();
  }
};

const pointStyle = color => ({
  backgroundColor: color,
  borderColor: color,
  pointRadius: 3.6,
  borderWidth: 1.6
});

new Chart(document.getElementById('tempChart'), {
  type: 'scatter',
  data: {
    datasets: [
      // higher order draws first, so the model sits on top of the measurements
      { label: 'Measured Temperature', data: measuredPts, order: 2, ...pointStyle(GREEN) },
      { label: 'Thermal Model', data: modelPts, order: 1, ...pointStyle(BLUE) }
    ]
  },
  options: {
    responsive: false,
    animation: false,
    events: [],
    layout: { padding: 0 },
    scales: {
      x: timeAxis(true, 63, 3.6),
      y: valueAxis(true, tempTicks, 27.425, 61.838, 13, 12.6)
    },
    plugins: {
      legend: { display: false },
      tooltip: { enabled: false },
      title: {
        display: true,
        fullSize: false,
        text: 'Filename = PID_SIN_2.txt',
        color: INK,
        font: { size: 23, weight: 'normal' },
        padding: { top: 5.5, bottom: 4.9 }
      },
      insetLegend: { corner: 'left', width: 295, height: 63 }
    }
  },
  plugins: [topSpine, insetLegend]
});

new Chart(document.getElementById('errorChart'), {
  type: 'scatter',
  data: {
    datasets: [
      { label: '', data: errorPts, ...pointStyle(BLUE) }
    ]
  },
  options: {
    responsive: false,
    animation: false,
    events: [],
    layout: { padding: { top: 6 } },
    scales: {
      x: timeAxis(false, 65, 4.6),
      y: valueAxis(false, errorTicks, -3.822, 2.651, 8, 8.6)
    },
    plugins: {
      legend: { display: false },
      tooltip: { enabled: false },
      insetLegend: { corner: 'right', width: 16.5, height: 14 }
    }
  },
  plugins: [topSpine, insetLegend]
});
</script>
</body>
</html>
